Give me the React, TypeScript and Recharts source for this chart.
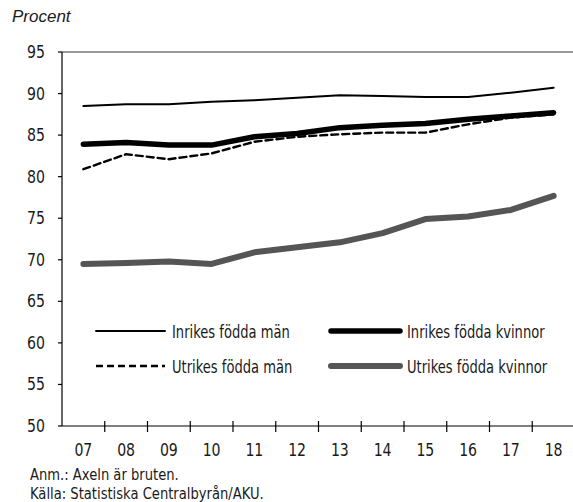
import React from "react";
import {
  LineChart,
  Line,
  XAxis,
  YAxis,
  ReferenceLine,
  Legend,
} from "recharts";

const years = ["07", "08", "09", "10", "11", "12", "13", "14", "15", "16", "17", "18"];
const inrikesMan = [88.5, 88.7, 88.7, 89.0, 89.2, 89.5, 89.8, 89.7, 89.6, 89.6, 90.1, 90.7];
const inrikesKvinnor = [83.9, 84.1, 83.8, 83.8, 84.8, 85.2, 85.9, 86.2, 86.4, 86.9, 87.3, 87.7];
const utrikesMan = [80.9, 82.7, 82.1, 82.8, 84.2, 84.8, 85.1, 85.3, 85.3, 86.3, 87.1, 87.5];
const utrikesKvinnor = [69.5, 69.6, 69.8, 69.5, 70.9, 71.5, 72.1, 73.2, 74.9, 75.2, 76.0, 77.7];
const yTicks = [50, 55, 60, 65, 70, 75, 80, 85, 90, 95];

const FONT = "'DejaVu Sans', sans-serif";
const TEXT = "#1a1a1a";
// the original uses a condensed face; squeeze DejaVu to roughly match
const SQUEEZE_WORDS = 0.77;
const SQUEEZE_DIGITS = 0.83;
const SQUEEZE_NOTE = 0.82;

const series = [
  { key: "inrikesMan", name: "Inrikes födda män", stroke: "#000", width: 2, dash: undefined },
  { key: "utrikesMan", name: "Utrikes födda män", stroke: "#000", width: 2.4, dash: "7 4" },
  { key: "inrikesKvinnor", name: "Inrikes födda kvinnor", stroke: "#000", width: 5.5, dash: undefined },
  { key: "utrikesKvinnor", name: "Utrikes födda kvinnor", stroke: "#555", width: 6, dash: undefined },
];

const data = years.map((y, i) => ({
  x: i,
  label: y,
  inrikesMan: inrikesMan[i],
  inrikesKvinnor: inrikesKvinnor[i],
  utrikesMan: utrikesMan[i],
  utrikesKvinnor: utrikesKvinnor[i],
}));

// labels at the centres, cross ticks at the category borders
const xTicks = years.flatMap((_, i) => (i < years.length - 1 ? [i, i + 0.5] : [i]));

function NarrowText({ x, y, anchor = "start", squeeze = SQUEEZE_WORDS, children }: any) {
  return (
    <text
      transform={`translate(${x},${y}) scale(${squeeze},1)`}
      textAnchor={anchor}
      fill={TEXT}
      fontSize={17}
      fontFamily={FONT}
    >
      {children}
    </text>
  );
}

function XTick(props: any) {
  const { x, y, payload } = props;
  if (payload.value % 1 !== 0) {
    return <line x1={x} x2={x} y1={y - 5} y2={y + 6} stroke="#000" strokeWidth={1.2} />;
  }
  return (
    <NarrowText x={x} y={y + 30} anchor="middle" squeeze={SQUEEZE_DIGITS}>
      {years[payload.value]}
    </NarrowText>
  );
}

function YTick(props: any) {
  const { x, y, payload } = props;
  return (
    <NarrowText x={x} y={y + 6} anchor="end" squeeze={SQUEEZE_DIGITS}>
      {payload.value}
    </NarrowText>
  );
}

// legend in two rows, same order as the reference
const legendRows = [
  ["inrikesMan", "inrikesKvinnor"],
  ["utrikesMan", "utrikesKvinnor"],
];

function renderLegend() {
  const colX = [6, 241];
  return (
    <svg width={480} height={70}>
      {legendRows.map((row, r) =>
        row.map((key, c) => {
          const s = series.find((d) => d.key === key)!;
          const cy = 15 + r * 35;
          const x0 = colX[c];
          return (
            <g key={key}>
              <line
                x1={x0}
                x2={x0 + 69}
                y1={cy}
                y2={cy}
                stroke={s.stroke}
                strokeWidth={s.width}
                strokeDasharray={s.dash}
                strokeLinecap={s.dash ? "butt" : "round"}
              />
              <NarrowText x={x0 + 76} y={cy + 7}>
                {s.name}
              </NarrowText>
            </g>
          );
        })
      )}
    </svg>
  );
}

export default function App() {
  return (
    <div style={{ position: "absolute", left: 0, top: 0, width: 573, height: 502, background: "#fff" }}>
      <div
        style={{
          position: "absolute",
          left: 12,
          top: 7,
          fontFamily: "'Liberation Sans', Arial, sans-serif",
          fontStyle: "italic",
          fontSize: 17,
          color: TEXT,
        }}
      >
        Procent
      </div>
      <LineChart
        width={573}
        height={502}
        data={data}
        margin={{ top: 52, right: -2, bottom: 75, left: 0 }}
        style={{ overflow: "visible" }}
      >
        <ReferenceLine y={95} stroke="#777" strokeWidth={1.5} />
        <XAxis
          dataKey="x"
          type="number"
          domain={[-0.5, years.length - 0.5]}
          ticks={xTicks}
          interval={0}
          tick={<XTick />}
          tickLine={false}
          tickSize={0}
          tickMargin={0}
          height={1}
          axisLine={{ stroke: "#000", strokeWidth: 1.2 }}
        />
        <YAxis
          domain={[50, 95]}
          ticks={yTicks}
          interval={0}
          width={62}
          tickSize={4}
          tickMargin={13}
          axisLine={{ stroke: "#000", strokeWidth: 1.2 }}
          tickLine={{ stroke: "#000", strokeWidth: 1.2 }}
          tick={<YTick />}
        />
        {series.map((s) => (
          <Line
            key={s.key}
            dataKey={s.key}
            name={s.name}
            type="linear"
            stroke={s.stroke}
            strokeWidth={s.width}
            strokeDasharray={s.dash}
            strokeLinecap="round"
            strokeLinejoin="round"
            dot={false}
            activeDot={false}
            isAnimationActive={false}
          />
        ))}
        <Legend
          layout="horizontal"
          verticalAlign="middle"
          align="center"
          wrapperStyle={{ left: 90, top: 316, width: 480 }}
          content={renderLegend}
        />
      </LineChart>
      <div
        style={{
          position: "absolute",
          left: 30,
          top: 465,
          fontFamily: FONT,
          fontSize: 16,
          lineHeight: "19px",
          color: TEXT,
          transform: `scaleX(${SQUEEZE_NOTE})`,
          transformOrigin: "left top",
          whiteSpace: "nowrap",
        }}
      >
        <div>Anm.: Axeln är bruten.</div>
        <div>Källa: Statistiska Centralbyrån/AKU.</div>
      </div>
    </div>
  );
}
